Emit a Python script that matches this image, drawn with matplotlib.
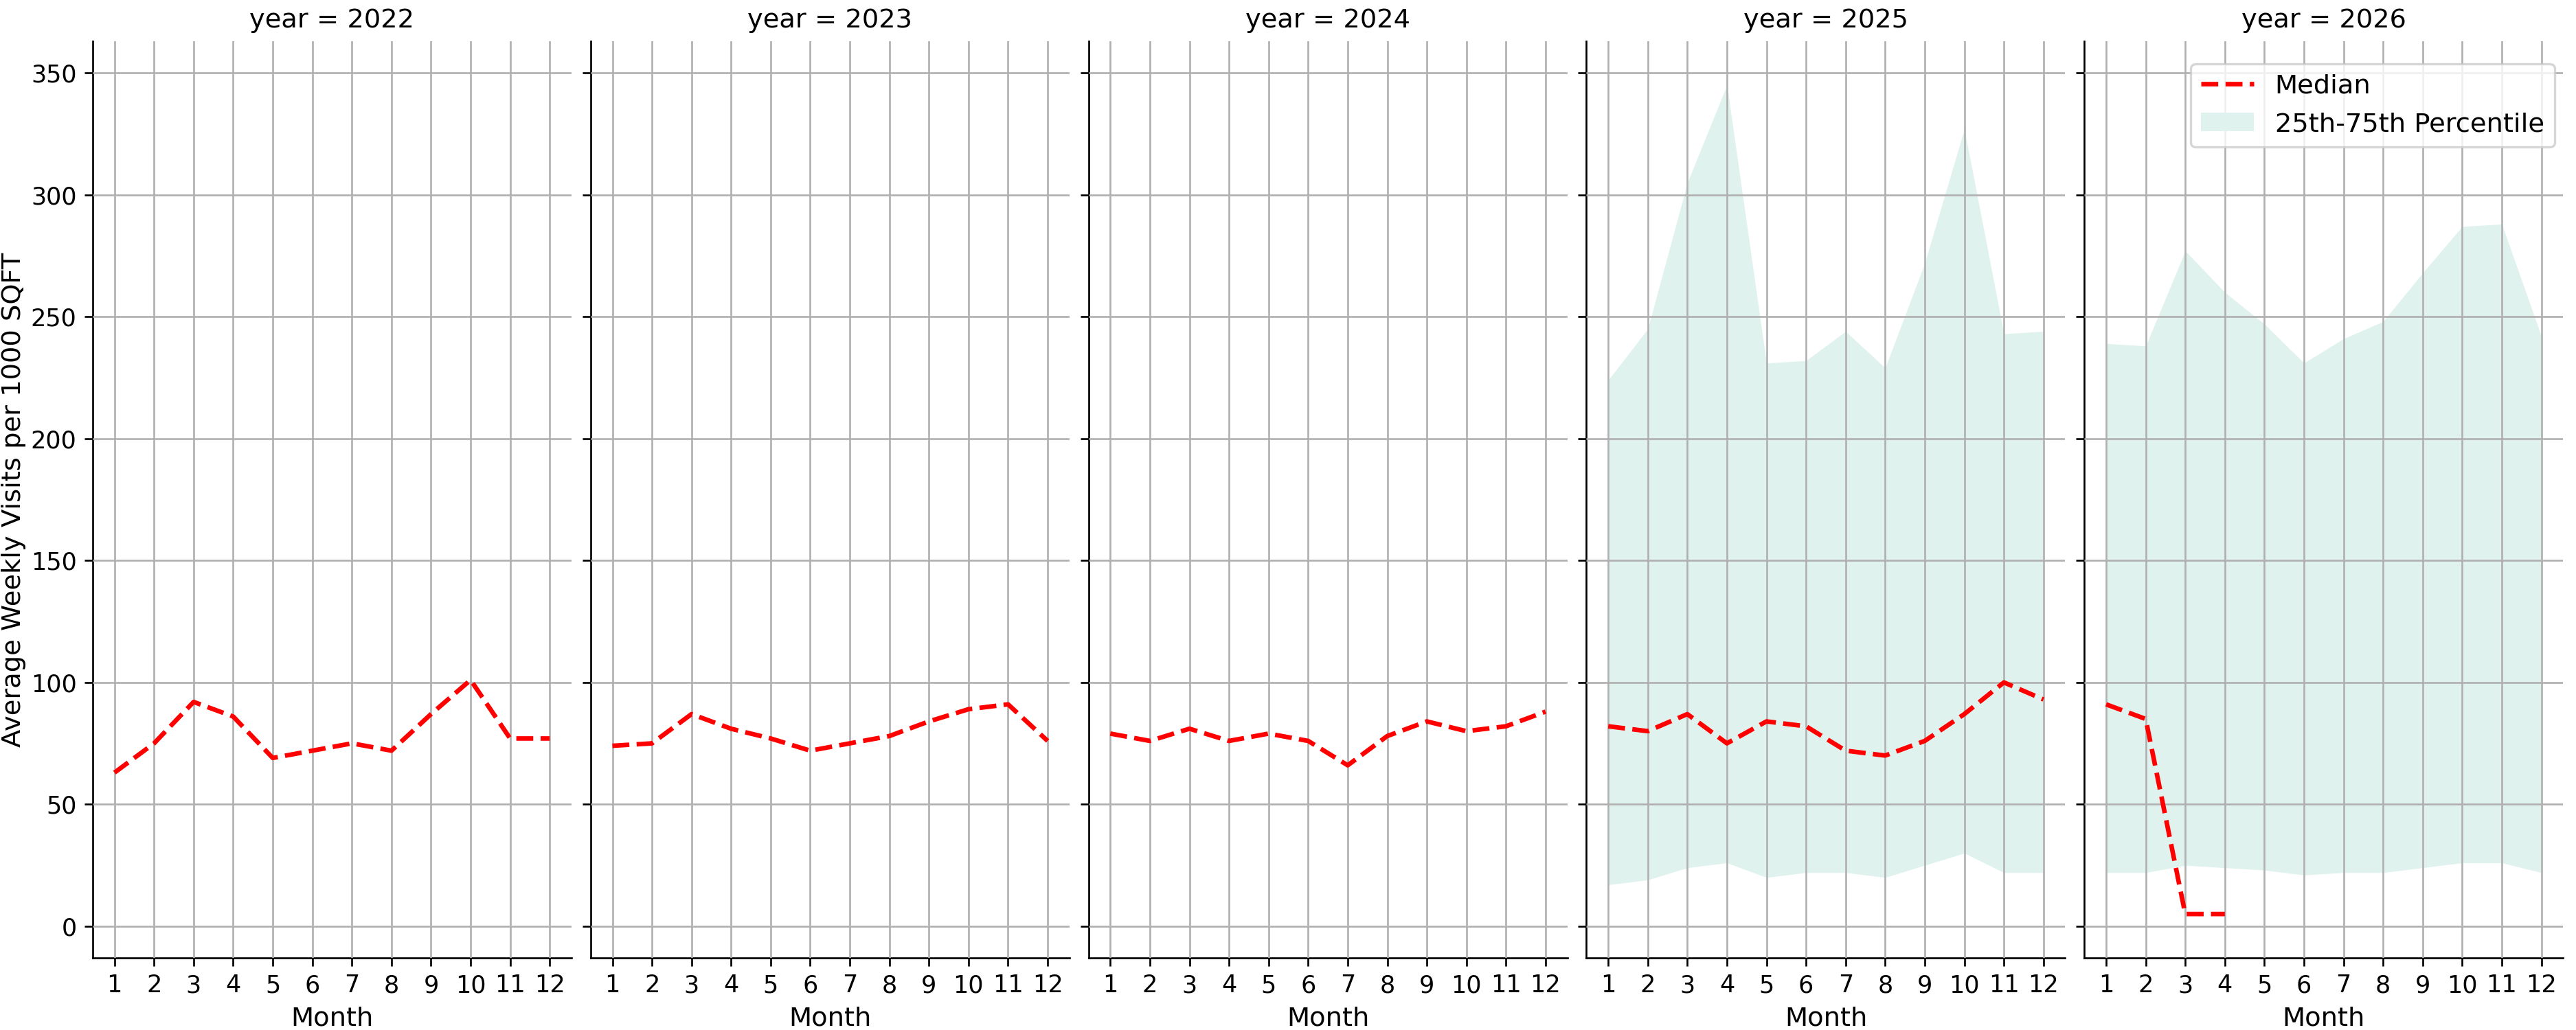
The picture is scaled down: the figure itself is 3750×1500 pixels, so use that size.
import numpy as np
import matplotlib
matplotlib.use("Agg")
import matplotlib.pyplot as plt

months = list(range(1, 13))
years = [2022, 2023, 2024, 2025, 2026]

median_2022 = [63, 75, 92, 86, 69, 72, 75, 72, 87, 101, 77, 77]
median_2023 = [74, 75, 87, 81, 77, 72, 75, 78, 84, 89, 91, 76]
median_2024 = [79, 76, 81, 76, 79, 76, 66, 78, 84, 80, 82, 88]
median_2025 = [82, 80, 87, 75, 84, 82, 72, 70, 76, 87, 100, 93]
median_2026 = [91, 85, 5, 5]

q75_2025 = [224, 245, 305, 345, 231, 232, 244, 229, 272, 327, 243, 244]
q25_2025 = [17, 19, 24, 26, 20, 22, 22, 20, 25, 30, 22, 22]
q75_2026 = [239, 238, 277, 260, 247, 231, 241, 248, 268, 287, 288, 242]
q25_2026 = [22, 22, 25, 24, 23, 21, 22, 22, 24, 26, 26, 22]

medians = {2022: median_2022, 2023: median_2023, 2024: median_2024,
           2025: median_2025, 2026: median_2026}
bands = {2025: (q25_2025, q75_2025), 2026: (q25_2026, q75_2026)}

fig, axes = plt.subplots(1, 5, figsize=(15.625, 6.25), dpi=240, sharey=True)
plt.subplots_adjust(left=0.036, right=0.995, top=0.96, bottom=0.07, wspace=0.04)

for ax, year in zip(axes, years):
    m = medians[year]
    ax.plot(months[:len(m)], m, 'r--', linewidth=2, label='Median', zorder=3)
    if year in bands:
        lo, hi = bands[year]
        ax.fill_between(months, lo, hi, color='#e0f2ed', linewidth=0,
                        label='25th-75th Percentile', zorder=1)
    ax.set_title(f"year = {year}", fontsize=11.5)
    ax.set_xlabel("Month", fontsize=11.5)
    ax.set_xticks(months)
    ax.set_xlim(0.45, 12.55)
    ax.set_ylim(-13, 363)
    ax.set_yticks(range(0, 351, 50))
    ax.tick_params(labelsize=10.5)
    ax.grid(True, color='#b0b0b0', linewidth=0.8, zorder=2)
    ax.set_axisbelow(False)
    ax.spines['top'].set_visible(False)
    ax.spines['right'].set_visible(False)

axes[0].set_ylabel("Average Weekly Visits per 1000 SQFT", fontsize=11.5, labelpad=2)
axes[-1].legend(loc='upper right', fontsize=11.5, bbox_to_anchor=(1.01, 0.99))

plt.savefig("out.png")
